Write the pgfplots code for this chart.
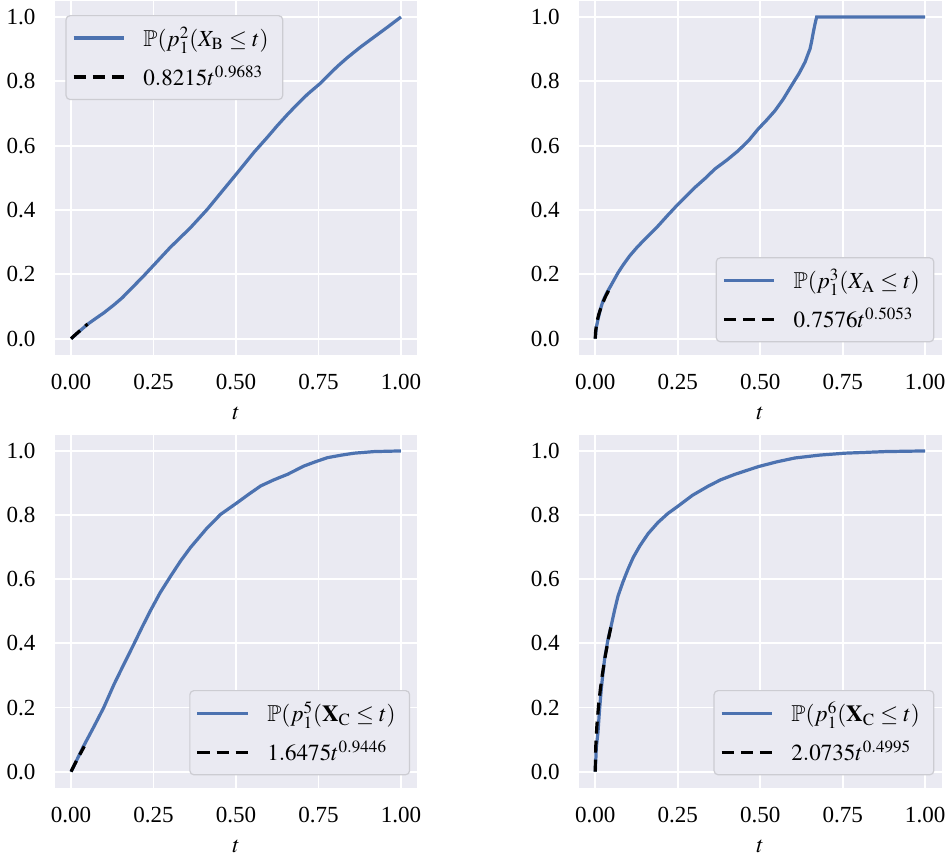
\documentclass[border=0pt]{standalone}
\usepackage{amssymb}
\usepackage{mathptmx}
\usepackage{fontspec}
\setmainfont{Liberation Serif}
\usepackage{pgfplots}
\pgfplotsset{compat=1.18}
\definecolor{bg}{HTML}{EAEAF2}
\definecolor{sblue}{HTML}{4C72B0}
\definecolor{ledge}{HTML}{CCCCD2}
\pgfplotsset{
  sbstyle/.style={
    scale only axis,
    xmin=-0.05, xmax=1.05, ymin=-0.05, ymax=1.05,
    xtick={0,0.25,0.5,0.75,1},
    ytick={0,0.2,0.4,0.6,0.8,1},
    xticklabel style={/pgf/number format/fixed, /pgf/number format/fixed zerofill, /pgf/number format/precision=2},
    yticklabel style={/pgf/number format/fixed, /pgf/number format/fixed zerofill, /pgf/number format/precision=1},
    /pgf/number format/assume math mode=true,
    ticklabel style={font=\fontsize{11.5}{13}\selectfont},
    label style={font=\fontsize{11.5}{13}\selectfont},
    xticklabel style={yshift=-6pt},
    yticklabel style={xshift=-6pt},
    xlabel={$t$},
    xlabel style={yshift=-2pt},
    major tick length=0pt,
    axis line style={draw=none},
    tick style={draw=none},
    grid=major,
    major grid style={white, line width=0.9pt},
    axis background/.style={fill=bg},
    legend cell align=left,
    legend image code/.code={\draw[#1] (0pt,0pt) -- (25pt,0pt);},
    legend style={draw=ledge, fill=bg, rounded corners=2pt, line width=0.6pt,
      font=\fontsize{11.5}{13}\selectfont, inner xsep=3pt, inner ysep=3.5pt,
      row sep=4pt, column sep=5pt, nodes={inner xsep=4pt}},
  },
  cdf/.style={sblue, line width=1.6pt},
  fit/.style={black, line width=1.6pt, dash pattern=on 6pt off 3.5pt},
}
\begin{document}
\begin{tikzpicture}
% Top-left
\begin{axis}[sbstyle, at={(30.75pt,-177.5pt)}, anchor=south west, width=181pt, height=176.5pt,
  legend style={at={(0.03,0.96)}, anchor=north west}]
\addplot[cdf] coordinates {(0,0) (0.049,0.044) (0.075,0.063) (0.099,0.080) (0.13,0.105) (0.155,0.127) (0.18,0.153) (0.221,0.196) (0.251,0.229) (0.30,0.283) (0.362,0.345) (0.413,0.402) (0.453,0.452) (0.494,0.503) (0.525,0.542) (0.555,0.580) (0.595,0.626) (0.625,0.662) (0.656,0.697) (0.687,0.730) (0.717,0.760) (0.757,0.795) (0.777,0.816) (0.808,0.847) (0.838,0.874) (0.878,0.907) (0.919,0.938) (0.96,0.969) (1,1)};
\addlegendentry{$\mathbb{P}(p_1^2(X_{\mathrm{B}}\leq t)$}
\addplot[fit] coordinates {(0,0) (0.01,0.0095) (0.02,0.0186) (0.03,0.0275) (0.04,0.0364) (0.05,0.0452)};
\addlegendentry{$0.8215t^{0.9683}$}
\end{axis}
% Top-right
\begin{axis}[sbstyle, at={(292.25pt,-177.5pt)}, anchor=south west, width=181pt, height=176.5pt,
  legend style={at={(0.98,0.035)}, anchor=south east}]
\addplot[cdf] coordinates {(0,0) (0.003,0.035) (0.008,0.059) (0.015,0.090) (0.023,0.116) (0.035,0.143) (0.049,0.168) (0.069,0.205) (0.085,0.230) (0.104,0.257) (0.125,0.282) (0.150,0.309) (0.190,0.350) (0.220,0.384) (0.251,0.418) (0.302,0.470) (0.335,0.500) (0.362,0.527) (0.40,0.556) (0.433,0.584) (0.465,0.616) (0.494,0.652) (0.520,0.680) (0.545,0.709) (0.570,0.745) (0.595,0.787) (0.618,0.825) (0.636,0.860) (0.645,0.885) (0.651,0.901) (0.656,0.925) (0.661,0.953) (0.666,0.978) (0.671,1.0) (1,1)};
\addlegendentry{$\mathbb{P}(p_1^3(X_{\mathrm{A}}\leq t)$}
\addplot[fit] coordinates {(0,0) (0.0002,0.0102) (0.001,0.0231) (0.005,0.0521) (0.01,0.0739) (0.02,0.1049) (0.03,0.1288) (0.04,0.1490) (0.05,0.1668)};
\addlegendentry{$0.7576t^{0.5053}$}
\end{axis}
% Bottom-left
\begin{axis}[sbstyle, at={(30.75pt,-393.5pt)}, anchor=south west, width=181pt, height=176pt,
  legend style={at={(0.98,0.035)}, anchor=south east}]
\addplot[cdf] coordinates {(0,0) (0.038,0.080) (0.07,0.142) (0.099,0.200) (0.13,0.272) (0.16,0.335) (0.19,0.397) (0.215,0.450) (0.24,0.501) (0.27,0.558) (0.302,0.610) (0.332,0.657) (0.362,0.699) (0.41,0.757) (0.453,0.802) (0.504,0.839) (0.54,0.866) (0.575,0.891) (0.615,0.910) (0.656,0.927) (0.706,0.953) (0.74,0.966) (0.777,0.979) (0.82,0.987) (0.858,0.993) (0.919,0.998) (1,1)};
\addlegendentry{$\mathbb{P}(p_1^5(\mathbf{X}_{\mathrm{C}}\leq t)$}
\addplot[fit] coordinates {(0,0) (0.01,0.0213) (0.02,0.0409) (0.03,0.0600) (0.04,0.0788)};
\addlegendentry{$1.6475t^{0.9446}$}
\end{axis}
% Bottom-right
\begin{axis}[sbstyle, at={(292.25pt,-393.5pt)}, anchor=south west, width=181pt, height=176pt,
  legend style={at={(0.98,0.035)}, anchor=south east}]
\addplot[cdf] coordinates {(0,0) (0.003,0.075) (0.008,0.122) (0.013,0.195) (0.018,0.257) (0.023,0.305) (0.028,0.350) (0.038,0.410) (0.049,0.459) (0.059,0.506) (0.069,0.548) (0.084,0.592) (0.099,0.631) (0.115,0.668) (0.135,0.704) (0.160,0.742) (0.190,0.777) (0.220,0.805) (0.251,0.828) (0.295,0.862) (0.342,0.890) (0.38,0.910) (0.423,0.927) (0.494,0.951) (0.550,0.966) (0.605,0.978) (0.68,0.987) (0.757,0.993) (0.88,0.998) (1,1)};
\addlegendentry{$\mathbb{P}(p_1^6(\mathbf{X}_{\mathrm{C}}\leq t)$}
\addplot[fit] coordinates {(0,0) (0.0002,0.0294) (0.001,0.0658) (0.002,0.0930) (0.005,0.1470) (0.01,0.2078) (0.015,0.2545) (0.02,0.2938) (0.03,0.3598) (0.04,0.4154) (0.05,0.4643)};
\addlegendentry{$2.0735t^{0.4995}$}
\end{axis}
\end{tikzpicture}
\end{document}
